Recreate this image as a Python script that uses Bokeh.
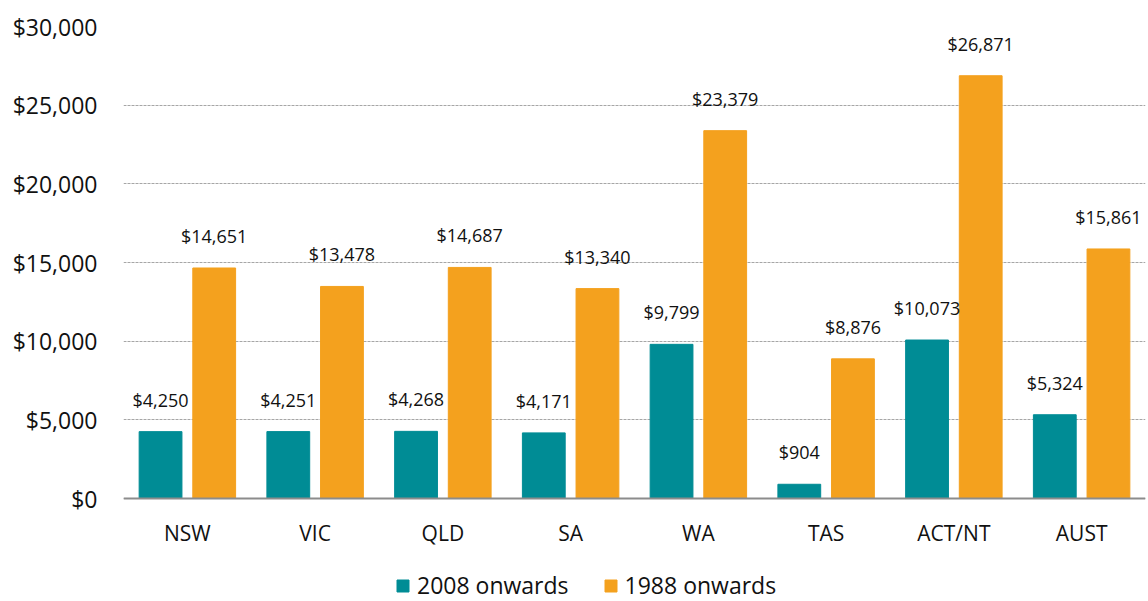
from bokeh.plotting import figure
from bokeh.models import ColumnDataSource, FactorRange, NumeralTickFormatter, Legend, LegendItem, LabelSet, Range1d, Span
from bokeh.core.properties import value
from bokeh.transform import dodge
from bokeh.embed import file_html
from bokeh.resources import INLINE

categories = ["NSW", "VIC", "QLD", "SA", "WA", "TAS", "ACT/NT", "AUST"]
values_2008 = [4250, 4251, 4268, 4171, 9799, 904, 10073, 5324]
values_1988 = [14651, 13478, 14687, 13340, 23379, 8876, 26871, 15861]
series_names = ["2008 onwards", "1988 onwards"]
y_ticks = [0, 5000, 10000, 15000, 20000, 25000, 30000]

labels_2008 = ["${:,}".format(v) for v in values_2008]
labels_1988 = ["${:,}".format(v) for v in values_1988]

src = ColumnDataSource(dict(cat=categories, v08=values_2008, v88=values_1988,
                            l08=labels_2008, l88=labels_1988,
                            base=[0] * len(categories)))

FONT = "Open Sans"
TEAL = "#008C95"
ORANGE = "#F4A11E"

# frame extends below zero so the category labels and legend sit inside it
PX_PER_UNIT = 472 / 30000
y_bottom = -103 / PX_PER_UNIT

p = figure(x_range=FactorRange(*categories), y_range=Range1d(y_bottom, 30000),
           frame_width=1022, frame_height=575, output_backend="svg", toolbar_location=None,
           min_border_left=123, min_border_right=3, min_border_top=26,
           min_border_bottom=0)

r1 = p.vbar(x=dodge("cat", -0.21, range=p.x_range), top="v08", width=0.335, source=src,
            fill_color=TEAL, line_color=TEAL)
r2 = p.vbar(x=dodge("cat", 0.21, range=p.x_range), top="v88", width=0.335, source=src,
            fill_color=ORANGE, line_color=ORANGE)

for xoff, col, lab in [(-0.21, "v08", "l08"), (0.21, "v88", "l88")]:
    ls = LabelSet(x=dodge("cat", xoff, range=p.x_range), y=col, text=lab, source=src,
                  text_align="center", text_baseline="bottom", y_offset=20,
                  text_font=value(FONT), text_font_size="18px", text_color="#111111")
    p.add_layout(ls)

# category labels under the baseline
p.text(x="cat", y="base", text="cat", source=src, text_align="center",
       text_baseline="middle", y_offset=34, text_font=value(FONT),
       text_font_size="21px", text_color="#111111")

p.add_layout(Span(location=0, dimension="width", line_color="#8C8C8C", line_width=2))

p.xaxis.visible = False
p.yaxis.formatter = NumeralTickFormatter(format="$0,0")
p.yaxis.ticker = y_ticks
p.yaxis.axis_line_color = None
p.yaxis.major_tick_line_color = None
p.yaxis.minor_tick_line_color = None
p.yaxis.major_label_standoff = 20
p.yaxis.major_label_text_font = FONT
p.yaxis.major_label_text_font_size = "23px"
p.yaxis.major_label_text_color = "#111111"

p.xgrid.grid_line_color = None
p.ygrid.ticker = y_ticks
p.ygrid.grid_line_color = "#A6A6A6"
p.ygrid.grid_line_dash = "3 1"
p.ygrid.grid_line_width = 1
p.outline_line_color = None

legend = Legend(items=[LegendItem(label=series_names[0], renderers=[r1]),
                       LegendItem(label=series_names[1], renderers=[r2])],
                orientation="horizontal", location=(272, 0),
                glyph_width=15, glyph_height=15, spacing=34,
                label_text_font=FONT, label_text_font_size="23px", label_text_color="#111111",
                border_line_color=None, background_fill_alpha=0, padding=2, margin=0,
                label_standoff=7)
p.add_layout(legend)

open("out.html", "w").write(file_html(p, INLINE))
